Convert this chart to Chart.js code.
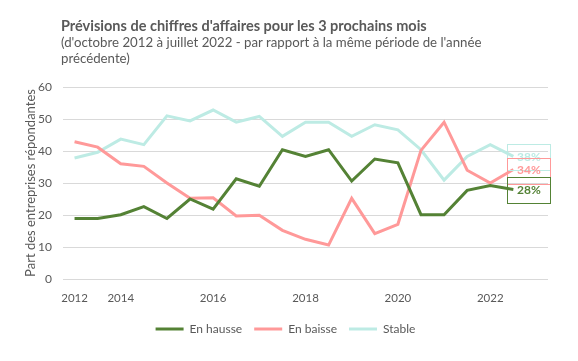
<!DOCTYPE html>
<html>
<head>
<meta charset="utf-8">
<script src="https://cdn.jsdelivr.net/npm/chart.js@4"></script>
<style>
  body { margin: 0; background: #fff; }
  #wrap { position: relative; width: 578px; height: 361px; }
  #title { position: absolute; left: 61px; top: 17px; font-family: Lato, sans-serif; color: #595959; }
  #title .t { font-weight: bold; font-size: 14.5px; line-height: 17px; }
  #title .s { font-size: 13.25px; line-height: 16px; }
</style>
</head>
<body>
<div id="wrap">
  <canvas id="c" width="578" height="361"></canvas>
  <div id="title">
    <div class="t">Prévisions de chiffres d'affaires pour les 3 prochains mois</div>
    <div class="s">(d'octobre 2012 à juillet 2022 - par rapport à la même période de l'année<br>précédente)</div>
  </div>
</div>
<script>
// categories: one point every ~6 months, only some carry a year label
const labels = ['2012', '', '2014', '', '', '', '2016', '', '', '', '2018', '', '', '', '2020', '', '', '', '2022', '', ''];

const hausse = [18.9, 18.9, 20.1, 22.6, 18.9, 25.0, 21.8, 31.3, 29.0, 40.4, 38.3, 40.4, 30.6, 37.5, 36.3, 20.1, 20.1, 27.7, 29.2, 28.0];
const baisse = [42.9, 41.2, 36.0, 35.2, 30.0, 25.2, 25.4, 19.7, 19.9, 15.2, 12.4, 10.6, 25.2, 14.2, 17.1, 40.2, 49.0, 34.0, 30.0, 34.2];
const stable = [37.8, 39.6, 43.7, 42.0, 51.0, 49.4, 52.8, 49.0, 50.8, 44.6, 49.0, 49.0, 44.6, 48.2, 46.6, 40.4, 30.9, 38.3, 42.0, 38.3];

const green = '#548235';
const pink = '#ff9999';
const cyan = '#bdebe4';
const grey = '#595959';

function ds(label, data, color) {
  return {
    label, data,
    borderColor: color,
    backgroundColor: color,
    borderWidth: 3,
    pointRadius: 0,
    tension: 0,
    fill: false
  };
}

// boxed value label next to the last point of each series
const lastLabels = {
  id: 'lastLabels',
  afterDatasetsDraw(chart) {
    const { ctx } = chart;
    const order = [2, 1, 0];
    order.forEach(di => {
      const meta = chart.getDatasetMeta(di);
      const d = chart.data.datasets[di];
      const i = d.data.length - 1;
      const pt = meta.data[i];
      const col = d.borderColor;
      ctx.save();
      ctx.strokeStyle = col;
      ctx.lineWidth = 1;
      ctx.strokeRect(Math.round(pt.x - 6) + 0.5, Math.round(pt.y - 12) + 0.5, 43, 26);
      ctx.fillStyle = col;
      ctx.font = 'bold 12px Lato';
      ctx.textAlign = 'center';
      ctx.textBaseline = 'middle';
      ctx.fillText(Math.round(d.data[i]) + '%', pt.x + 15.5, pt.y + 1);
      ctx.restore();
    });
  }
};

new Chart(document.getElementById('c'), {
  type: 'line',
  data: {
    labels,
    datasets: [
      ds('En hausse', hausse, green),
      ds('En baisse', baisse, pink),
      ds('Stable', stable, cyan)
    ]
  },
  options: {
    responsive: false,
    animation: false,
    layout: { padding: { top: 87, right: 30, left: 23, bottom: 16 } },
    plugins: {
      legend: {
        position: 'bottom',
        labels: {
          color: grey,
          font: { family: 'Lato', size: 12 },
          boxWidth: 28,
          boxHeight: 3,
          padding: 12,
          generateLabels(chart) {
            return chart.data.datasets.map((d, i) => ({
              text: d.label,
              fillStyle: d.borderColor,
              strokeStyle: d.borderColor,
              lineWidth: 0,
              fontColor: grey,
              datasetIndex: i
            }));
          }
        }
      },
      tooltip: { enabled: false }
    },
    scales: {
      x: {
        offset: true,
        grid: { display: false },
        border: { display: false },
        ticks: {
          color: grey,
          font: { family: 'Lato', size: 11.5 },
          autoSkip: false,
          maxRotation: 0,
          padding: 4
        },
        afterFit(s) { s.height = 32; }
      },
      y: {
        min: 0,
        max: 60,
        grid: { color: '#d9d9d9', drawTicks: false },
        border: { display: false },
        ticks: {
          stepSize: 10,
          color: grey,
          font: { family: 'Lato', size: 12 },
          padding: 11
        },
        title: {
          display: true,
          text: 'Part des entreprises répondantes',
          color: grey,
          font: { family: 'Lato', size: 13 },
          padding: 0
        },
        afterFit(s) { s.width = 40; }
      }
    }
  },
  plugins: [lastLabels]
});
</script>
</body>
</html>
